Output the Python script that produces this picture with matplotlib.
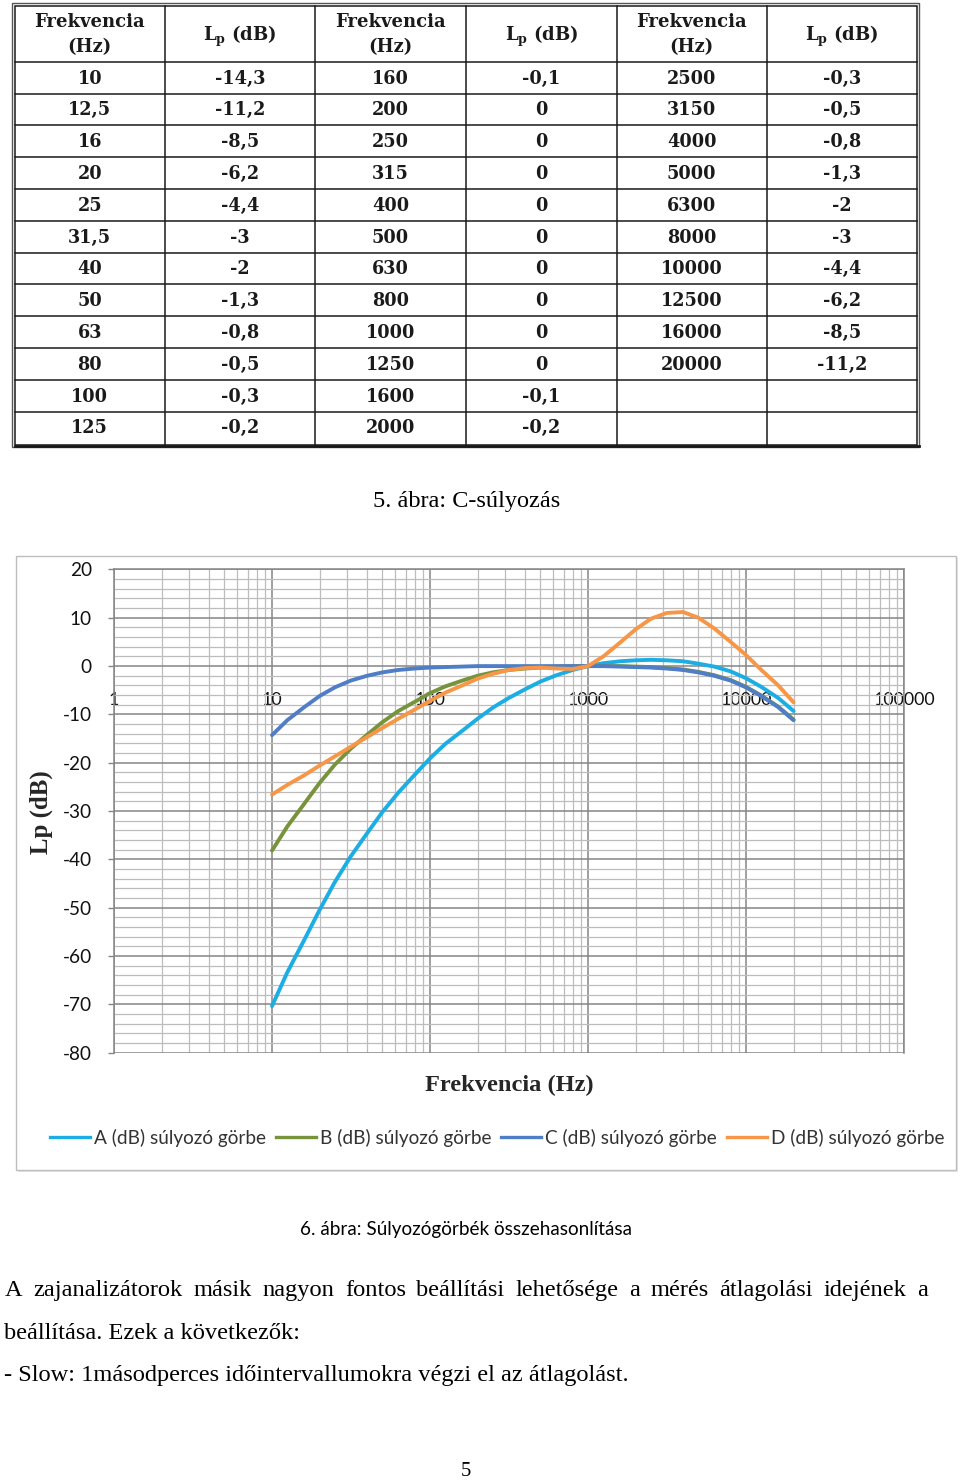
import matplotlib
matplotlib.use('Agg')
import matplotlib.pyplot as plt
from matplotlib.patches import Rectangle
from matplotlib.lines import Line2D
from matplotlib.ticker import FixedLocator, NullFormatter, LogLocator, MultipleLocator

# ---------------- data ----------------
tbl_header_freq = ["Frekvencia", "(Hz)"]
tbl_header_lp = r"L$_\mathbf{p}$ (dB)"
freq_col1 = ['10', '12,5', '16', '20', '25', '31,5', '40', '50', '63', '80', '100', '125']
lp_col1 = ['-14,3', '-11,2', '-8,5', '-6,2', '-4,4', '-3', '-2', '-1,3', '-0,8', '-0,5', '-0,3', '-0,2']
freq_col2 = ['160', '200', '250', '315', '400', '500', '630', '800', '1000', '1250', '1600', '2000']
lp_col2 = ['-0,1', '0', '0', '0', '0', '0', '0', '0', '0', '0', '-0,1', '-0,2']
freq_col3 = ['2500', '3150', '4000', '5000', '6300', '8000', '10000', '12500', '16000', '20000', '', '']
lp_col3 = ['-0,3', '-0,5', '-0,8', '-1,3', '-2', '-3', '-4,4', '-6,2', '-8,5', '-11,2', '', '']

freqs = [10, 12.5, 16, 20, 25, 31.5, 40, 50, 63, 80, 100, 125, 160, 200, 250, 315, 400, 500,
         630, 800, 1000, 1250, 1600, 2000, 2500, 3150, 4000, 5000, 6300, 8000, 10000, 12500,
         16000, 20000]
curve_A = [-70.4, -63.4, -56.7, -50.5, -44.7, -39.4, -34.6, -30.2, -26.2, -22.5, -19.1, -16.1,
           -13.4, -10.9, -8.6, -6.6, -4.8, -3.2, -1.9, -0.8, 0, 0.6, 1.0, 1.2, 1.3, 1.2, 1.0,
           0.5, -0.1, -1.1, -2.5, -4.3, -6.6, -9.3]
curve_B = [-38.2, -33.2, -28.5, -24.2, -20.4, -17.1, -14.2, -11.6, -9.3, -7.4, -5.6, -4.2,
           -3.0, -2.0, -1.3, -0.8, -0.5, -0.3, -0.1, 0, 0, 0, 0, -0.1, -0.2, -0.4, -0.7,
           -1.2, -1.9, -2.9, -4.3, -6.1, -8.4, -11.1]
curve_C = [-14.3, -11.2, -8.5, -6.2, -4.4, -3, -2, -1.3, -0.8, -0.5, -0.3, -0.2, -0.1, 0, 0,
           0, 0, 0, 0, 0, 0, 0, -0.1, -0.2, -0.3, -0.5, -0.8, -1.3, -2, -3, -4.4, -6.2,
           -8.5, -11.2]
curve_D = [-26.6, -24.6, -22.6, -20.6, -18.7, -16.7, -14.7, -12.8, -10.9, -9.0, -7.2, -5.5,
           -4.0, -2.6, -1.6, -0.8, -0.4, -0.3, -0.5, -0.6, 0, 2.0, 4.9, 7.6, 9.8, 11.0, 11.2,
           10.0, 7.8, 5.0, 2.3, -0.8, -4.0, -7.5]
series_names = ['A (dB) súlyozó görbe', 'B (dB) súlyozó görbe',
                'C (dB) súlyozó görbe', 'D (dB) súlyozó görbe']
series_colors = ['#1BADE4', '#77933C', '#4F7EC6', '#F79646']
x_ticks = [1, 10, 100, 1000, 10000, 100000]
x_ticklabels = ['1', '10', '100', '1000', '10000', '100000']
y_ticks = list(range(-80, 21, 10))

caption5 = "5. ábra: C-súlyozás"
caption6 = "6. ábra: Súlyozógörbék összehasonlítása"
body1 = "A zajanalizátorok másik nagyon fontos beállítási lehetősége a mérés átlagolási idejének a"
body2 = "beállítása. Ezek a következők:"
body3 = "- Slow: 1másodperces időintervallumokra végzi el az átlagolást."
page_no = "5"

plt.rcParams['axes.unicode_minus'] = False
plt.rcParams['mathtext.fontset'] = 'custom'
plt.rcParams['mathtext.rm'] = 'DejaVu Serif:bold'
plt.rcParams['mathtext.bf'] = 'DejaVu Serif:bold'
plt.rcParams['mathtext.it'] = 'DejaVu Serif:bold'

W, H = 960, 1481
fig = plt.figure(figsize=(W / 100, H / 100), dpi=100)
fig.patch.set_facecolor('white')
R = fig.canvas.get_renderer()

page = fig.add_axes([0, 0, 1, 1], zorder=0)
page.set_xlim(0, W)
page.set_ylim(H, 0)
page.axis('off')


def width_of(s, **kw):
    t = page.text(0, 0, s, **kw)
    w = t.get_window_extent(renderer=R).width
    t.remove()
    return w


def fit_size(s, target, base=12, **kw):
    return base * target / width_of(s, fontsize=base, **kw)


# ---------------- table ----------------
cols = [15, 164.5, 315, 466, 616.5, 767, 917]
top, head_bot, row_h = 6, 61.7, 31.8
nrows = len(freq_col1)
bottom = head_bot + nrows * row_h + 2
line_c = '#1a1a1a'
for xc in cols[1:-1]:
    page.plot([xc, xc], [top, bottom], color=line_c, lw=1.1)
for k in range(nrows):
    yy = head_bot + k * row_h
    page.plot([cols[0], cols[-1]], [yy, yy], color=line_c, lw=1.1)
page.add_patch(Rectangle((cols[0], top), cols[-1] - cols[0], bottom - top, fill=False,
                         ec=line_c, lw=1.1))
page.add_patch(Rectangle((11.5, 3), cols[-1] + 2 - 11.5, bottom + 2 - 3, fill=False,
                         ec='#555555', lw=1.0))
page.plot([cols[0], cols[-1] + 2], [bottom + 1, bottom + 1], color=line_c, lw=2.0)

hdr_font = dict(family='DejaVu Serif', fontweight='bold', color='#1a1a1a')
hs = fit_size('Frekvencia', 110, **hdr_font)
vs = hs * 0.98
columns = [freq_col1, lp_col1, freq_col2, lp_col2, freq_col3, lp_col3]
for ci, colvals in enumerate(columns):
    xc = (cols[ci] + cols[ci + 1]) / 2
    if ci % 2 == 0:
        page.text(xc, 22, tbl_header_freq[0], ha='center', va='center', fontsize=hs, **hdr_font)
        page.text(xc, 47, tbl_header_freq[1], ha='center', va='center', fontsize=hs, **hdr_font)
    else:
        page.text(xc, 36, tbl_header_lp, ha='center', va='center', fontsize=hs, **hdr_font)
    for k, v in enumerate(colvals):
        if v:
            page.text(xc, head_bot + row_h * (k + 0.5) + 1, v, ha='center', va='center',
                      fontsize=vs, **hdr_font)

# ---------------- captions / body ----------------
serif = dict(family='Liberation Serif', color='black')
bs = fit_size(body3, 625, **serif)
page.text(467, 501, caption5, ha='center', va='center', fontsize=fit_size(caption5, 187, **serif),
          **serif)

sans6 = dict(family='Lato', color='black')
page.text(466, 1229, caption6, ha='center', va='center',
          fontsize=fit_size(caption6, 331, **sans6), **sans6)


def justify(text, x0, x1, y, fs):
    words = text.split()
    ts = [page.text(0, y, w, fontsize=fs, va='baseline', **serif) for w in words]
    ws = [t.get_window_extent(renderer=R).width for t in ts]
    gap = (x1 - x0 - sum(ws)) / (len(words) - 1)
    x = x0
    for t, w in zip(ts, ws):
        t.set_x(x)
        x += w + gap


justify(body1, 5, 928, 1296, bs)
page.text(4, 1339, body2, va='baseline', fontsize=bs, **serif)
page.text(4, 1381, body3, va='baseline', fontsize=bs, **serif)
page.text(466, 1471, page_no, ha='center', va='center', fontsize=bs * 0.85, **serif)

# ---------------- chart frame ----------------
page.add_patch(Rectangle((18, 558), 940, 614, fill=True, fc='#e6e6e6', ec='none'))
page.add_patch(Rectangle((16, 556), 940, 614, fill=True, fc='white', ec='#bdbdbd', lw=1.0))

lab_font = dict(family='Liberation Serif', fontweight='bold', color='#262626')
page.text(509, 1085, 'Frekvencia (Hz)', ha='center', va='center',
          fontsize=fit_size('Frekvencia (Hz)', 168, **lab_font), **lab_font)
page.text(41, 812, 'Lp (dB)', ha='center', va='center', rotation=90,
          fontsize=fit_size('Lp (dB)', 83, **lab_font), **lab_font)

# ---------------- chart ----------------
x_left, x_right = 114, 904
y_top, y_bot = 569.5, 1052.5
ax = fig.add_axes([x_left / W, 1 - y_bot / H, (x_right - x_left) / W, (y_bot - y_top) / H],
                  zorder=2)
ax.patch.set_alpha(0)
ax.set_xscale('log')
ax.set_xlim(1, 1e5)
ax.set_ylim(-80, 20)
ax.xaxis.set_major_locator(FixedLocator(x_ticks))
ax.xaxis.set_minor_locator(LogLocator(base=10, subs=range(2, 10), numticks=50))
ax.xaxis.set_minor_formatter(NullFormatter())
ax.set_xticklabels(x_ticklabels)
ax.yaxis.set_major_locator(FixedLocator(y_ticks))
ax.yaxis.set_minor_locator(MultipleLocator(2))
ax.grid(which='major', color='#858585', lw=1.1)
ax.grid(which='minor', color='#bdbdbd', lw=0.9)
ax.set_axisbelow(True)
for s in ['left', 'right', 'top']:
    ax.spines[s].set_color('#858585')
    ax.spines[s].set_linewidth(1.1)
ax.spines['bottom'].set_position(('data', 0))
ax.spines['bottom'].set_visible(False)

tick_font = dict(family='Lato')
tfs = fit_size('100000', 62, **tick_font)
ax.tick_params(axis='x', which='both', length=0, pad=19, labelsize=tfs, labelcolor='#111111')
ax.tick_params(axis='y', which='major', length=4, width=1, color='#858585', pad=12,
               labelsize=fit_size('-80', 29, **tick_font), labelcolor='#111111')
ax.tick_params(axis='y', which='minor', length=0)
for lbl in ax.get_xticklabels() + ax.get_yticklabels():
    lbl.set_family('Lato')

curves = [curve_A, curve_B, curve_C, curve_D]
handles = []
for vals, name, col in zip(curves, series_names, series_colors):
    ax.plot(freqs, vals, color=col, lw=2.8, label=name, solid_capstyle='round')
    handles.append(Line2D([], [], color=col, lw=2.4))

lfs = fit_size(series_names[0], 172, family='Lato')
em = lfs * 100 / 72
ax.legend(handles, series_names, loc='center', bbox_to_anchor=(497 / W, 1 - 1138 / H),
          bbox_transform=fig.transFigure, ncol=4, frameon=False,
          prop=dict(family='Lato', size=lfs), handlelength=40 / em, handletextpad=4 / em,
          columnspacing=10 / em, borderpad=0, labelcolor='#333333')

fig.savefig('out.png', dpi=100, facecolor='white')
